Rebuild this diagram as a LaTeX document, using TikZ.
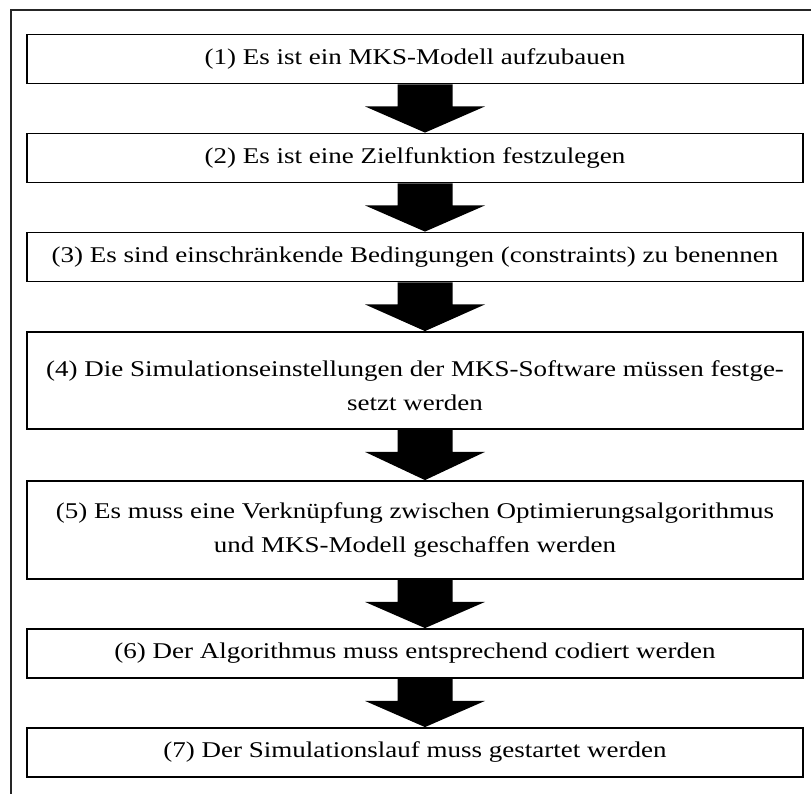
\documentclass[tikz,border=0pt]{standalone}
\usepackage{fontspec}
\setmainfont[FakeStretch=1.2]{Liberation Serif}
\usetikzlibrary{calc}
\tikzset{
  x=1pt, y=-1pt,
  stepbox/.style={draw=black, line width=1.8pt, minimum width=776pt, minimum height=49pt,
    inner sep=0pt, align=center, font=\fontsize{22.5}{34}\selectfont},
  frameline/.style={draw=black!85, line width=1.4pt},
}
\newcommand{\blockarrow}[2]{%
  \fill[black] let \p1=(#1.south), \p2=(#2.north) in
    (\x1+10pt-27.5pt,\y1) -- (\x1+10pt+27.5pt,\y1) -- (\x1+10pt+27.5pt,\y1-22pt)
    -- (\x1+10pt+60pt,\y1-22pt) -- (\x1+10pt,\y2) -- (\x1+10pt-60pt,\y1-22pt)
    -- (\x1+10pt-27.5pt,\y1-22pt) -- cycle;}
\begin{document}
\begin{tikzpicture}
\useasboundingbox (0,0) rectangle (811,794);
\coordinate (frTR) at (811,10);
\coordinate (frTL) at (11,10);
\coordinate (frBL) at (11,794);
\draw[frameline] (frTR) -- (frTL) -- (frBL);
\node[stepbox] (b1) at (415,59) {(1) Es ist ein MKS-Modell aufzubauen};
\node[stepbox] (b2) at (415,158) {(2) Es ist eine Zielfunktion festzulegen};
\node[stepbox] (b3) at (415,257) {(3) Es sind einschränkende Bedingungen (constraints) zu benennen};
\node[stepbox, minimum height=97pt] (b4) at (415,380.5) {\rule{0pt}{26pt}(4) Die Simulationseinstellungen der MKS-Software müssen festge-\\setzt werden};
\node[stepbox, minimum height=98pt] (b5) at (415,530) {(5) Es muss eine Verknüpfung zwischen Optimierungsalgorithmus\\und MKS-Modell geschaffen werden};
\node[stepbox] (b6) at (415,653.5) {(6) Der Algorithmus muss entsprechend codiert werden};
\node[stepbox] (b7) at (415,752.5) {(7) Der Simulationslauf muss gestartet werden};
\blockarrow{b1}{b2}
\blockarrow{b2}{b3}
\blockarrow{b3}{b4}
\blockarrow{b4}{b5}
\blockarrow{b5}{b6}
\blockarrow{b6}{b7}
\end{tikzpicture}
\end{document}
